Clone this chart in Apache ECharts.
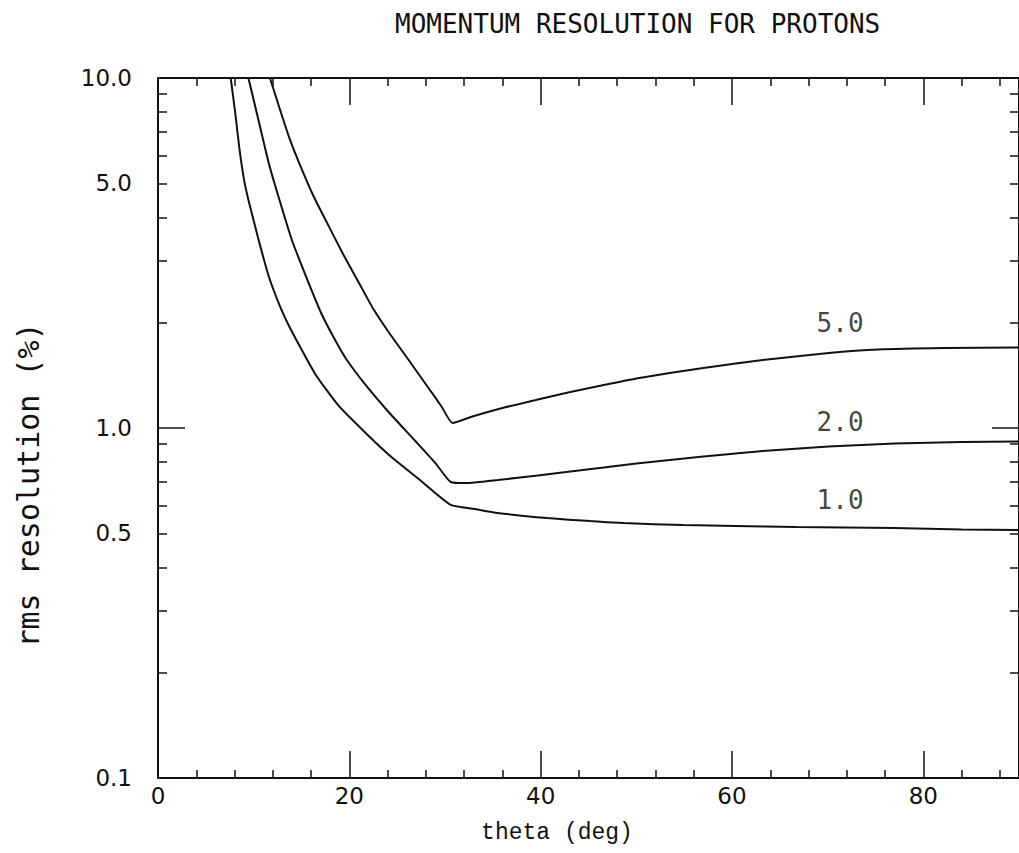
<!DOCTYPE html>
<html>
<head>
<meta charset="utf-8">
<title>Momentum resolution for protons</title>
<script src="https://cdn.jsdelivr.net/npm/echarts@6/dist/echarts.min.js"></script>
<style>
    html, body { margin: 0; padding: 0; background: #fff; }
    #chart { width: 1019px; height: 853px; }
</style>
</head>
<body>
<div id="chart"></div>
<script>
// theta (deg) and rms resolution (%), one pair of arrays per momentum
const theta1 = [7.6, 8.1, 8.5, 9.0, 9.55, 10.6, 11.6, 12.7, 13.7, 14.75, 16.5, 18.9, 21.7, 24.4, 27.5, 30.6, 33.1, 35.5, 40.7, 45.2, 48.7, 54.9, 60.4, 66.7, 77.0, 84.0, 90];
const res1 = [10, 7.84, 6.31, 5.11, 4.37, 3.38, 2.70, 2.246, 1.956, 1.726, 1.417, 1.156, 0.968, 0.826, 0.706, 0.603, 0.587, 0.572, 0.553, 0.542, 0.535, 0.528, 0.525, 0.521, 0.518, 0.513, 0.511];

const theta2 = [9.45, 10.6, 11.6, 12.7, 14.0, 15.5, 17.1, 18.4, 19.6, 21.7, 24.1, 26.9, 29.0, 30.6, 32.1, 35.5, 39.7, 43.1, 46.6, 50.0, 53.5, 57.0, 60.4, 63.2, 70.1, 77.0, 84.0, 90];
const res2 = [10, 7.39, 5.68, 4.48, 3.44, 2.70, 2.117, 1.807, 1.585, 1.327, 1.111, 0.918, 0.794, 0.701, 0.696, 0.710, 0.732, 0.751, 0.771, 0.792, 0.810, 0.829, 0.846, 0.860, 0.885, 0.903, 0.912, 0.915];

const theta5 = [11.7, 12.7, 13.7, 14.75, 16.3, 17.9, 19.4, 21.0, 22.5, 24.1, 26.2, 28.2, 29.6, 30.8, 32.7, 36.2, 39.7, 43.1, 46.6, 50.0, 53.5, 57.0, 60.4, 63.2, 70.1, 75.3, 82.2, 90];
const res5 = [10, 8.21, 6.78, 5.72, 4.57, 3.75, 3.12, 2.60, 2.19, 1.88, 1.564, 1.31, 1.156, 1.033, 1.075, 1.144, 1.206, 1.267, 1.327, 1.385, 1.436, 1.484, 1.529, 1.564, 1.638, 1.676, 1.692, 1.698];

// curve labels (momentum) and where they sit
const curveNames = ["1.0", "2.0", "5.0"];
const curveLabelTheta = [71.3, 71.3, 71.3];
const curveLabelRes = [0.623, 1.04, 2.0];

// tick labels
const xTickLabels = [0, 20, 40, 60, 80];
const yTickLabels = [0.1, 0.5, 1, 5, 10];

const ink = "#111";

function pairs(xs, ys) {
    return xs.map((x, i) => [x, ys[i]]);
}

function curve(name, xs, ys) {
    return {
        name: name,
        type: "line",
        data: pairs(xs, ys),
        showSymbol: false,
        smooth: 0.18,
        xAxisIndex: 0,
        yAxisIndex: 0,
        lineStyle: { color: ink, width: 2 },
        silent: true
    };
}

const xBase = {
    type: "value",
    min: 0,
    max: 90,
    interval: 20,
    axisLine: { show: true, onZero: false, lineStyle: { color: ink, width: 2 } },
    axisTick: { show: true, inside: true, length: 27, lineStyle: { color: ink, width: 1.5 } },
    minorTick: { show: true, splitNumber: 5, length: 8, lineStyle: { color: ink, width: 1.5 } },
    splitLine: { show: false }
};

const yBase = {
    type: "log",
    logBase: 10,
    min: 0.1,
    max: 10,
    axisLine: { show: true, onZero: false, lineStyle: { color: ink, width: 2 } },
    axisTick: { show: true, inside: true, length: 27, lineStyle: { color: ink, width: 1.5 } },
    minorTick: { show: true, splitNumber: 9, length: 9, lineStyle: { color: ink, width: 1.5 } },
    splitLine: { show: false }
};

const settings = {
    animation: false,
    backgroundColor: "#fff",
    title: {
        text: "MOMENTUM RESOLUTION FOR PROTONS",
        left: 390,
        top: 6,
        textStyle: { fontFamily: "DejaVu Sans Mono", fontSize: 26, fontWeight: "normal", color: ink }
    },
    grid: { left: 158, right: -6, top: 78, bottom: 75 },
    xAxis: [
        Object.assign({}, xBase, {
            position: "bottom",
            axisLabel: {
                show: true,
                margin: 6,
                customValues: xTickLabels,
                fontFamily: "DejaVu Sans",
                fontSize: 23,
                color: ink
            }
        }),
        Object.assign({}, xBase, { position: "top", axisLabel: { show: false } })
    ],
    yAxis: [
        Object.assign({}, yBase, {
            position: "left",
            axisLabel: {
                show: true,
                margin: 26,
                customValues: yTickLabels,
                formatter: v => Number(v).toFixed(1),
                fontFamily: "DejaVu Sans",
                fontSize: 23,
                color: ink
            }
        }),
        Object.assign({}, yBase, { position: "right", axisLabel: { show: false } })
    ],
    graphic: [
        {
            type: "text",
            x: 28,
            y: 485,
            rotation: Math.PI / 2,
            style: {
                text: "rms resolution (%)",
                fontFamily: "DejaVu Sans Mono",
                fontSize: 30,
                fill: ink,
                align: "center",
                verticalAlign: "middle"
            }
        },
        {
            type: "text",
            x: 557,
            y: 833,
            style: {
                text: "theta (deg)",
                fontFamily: "Liberation Mono",
                fontSize: 23,
                fill: ink,
                align: "center",
                verticalAlign: "middle"
            }
        }
    ],
    series: [
        curve("1.0", theta1, res1),
        curve("2.0", theta2, res2),
        curve("5.0", theta5, res5),
        {
            name: "labels",
            type: "scatter",
            symbolSize: 0,
            silent: true,
            data: curveNames.map((n, i) => ({ value: [curveLabelTheta[i], curveLabelRes[i]], name: n })),
            label: {
                show: true,
                position: "inside",
                formatter: p => p.name,
                fontFamily: "DejaVu Sans Mono",
                fontSize: 26,
                color: ink
            }
        }
    ]
};

const myChart = echarts.init(document.getElementById("chart"), null, { renderer: "svg" });
myChart.setOption(settings);
</script>
</body>
</html>
